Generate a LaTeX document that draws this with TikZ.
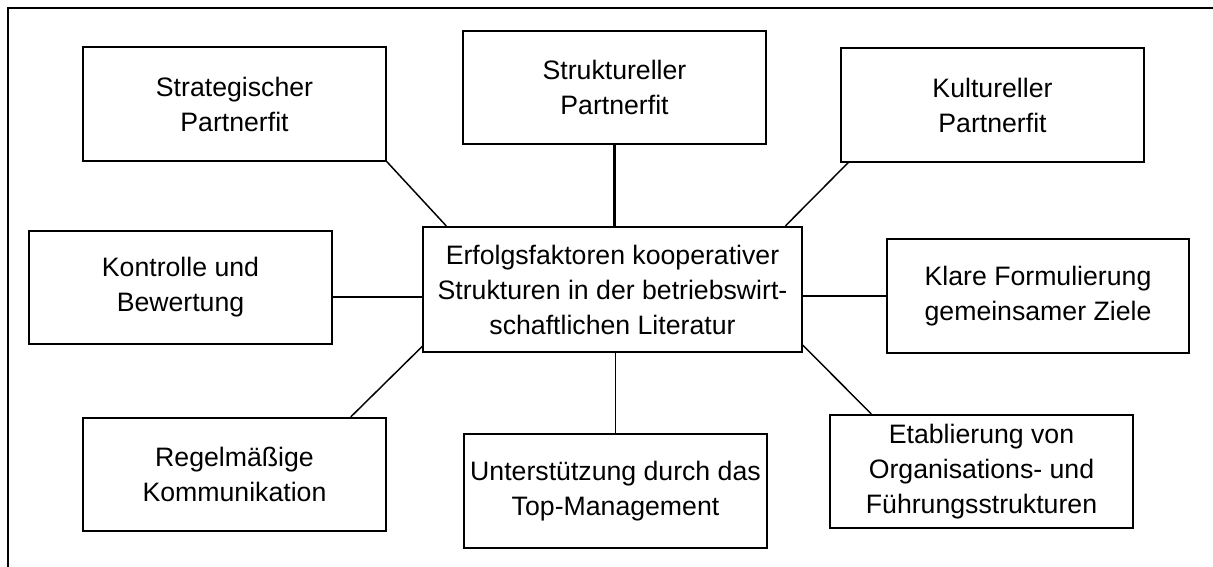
\documentclass[tikz,border=0pt]{standalone}
\usepackage{fontspec}
\setmainfont{Liberation Sans}
\usepackage{tikz}
\usetikzlibrary{calc}
\definecolor{inkBlack}{RGB}{0,0,0}
\tikzset{
  factor/.style={draw=inkBlack, line width=1.4pt, fill=white, align=center,
                 minimum width=227pt, minimum height=85pt, inner sep=2pt,
                 font=\fontsize{20}{26.25}\selectfont},
  corebox/.style={factor, minimum width=284pt, minimum height=94pt}
}

\begin{document}
\begin{tikzpicture}[
  x=0.75pt, y=-0.75pt,
  link/.style={draw=inkBlack, line width=1.1pt},
  heavylink/.style={draw=inkBlack, line width=1.8pt}
]
\useasboundingbox (0,0) rectangle (1213,567);
\draw[inkBlack, line width=2pt] (8,567) -- (8,8) -- (1213,8);

% centre
\node[corebox] (centre) at (612.5,289.5) {Erfolgsfaktoren kooperativer\\Strukturen in der betriebswirt-\\schaftlichen Literatur};

% factors
\node[factor] (strat) at (234.5,104) {Strategischer\\Partnerfit};
\node[factor] (struk) at (614.5,87.5) {Struktureller\\Partnerfit};
\node[factor] (kult) at (992.5,105) {Kultureller\\Partnerfit};
\node[factor] (kontr) at (180.5,287.5) {Kontrolle und\\Bewertung};
\node[factor] (klare) at (1038,296) {Klare Formulierung\\gemeinsamer Ziele};
\node[factor] (regel) at (234.5,474.5) {Regelmäßige\\Kommunikation};
\node[factor] (unter) at (615.5,491) {Unterstützung durch das\\Top-Management};
\node[factor] (etab) at (981.5,471.5) {Etablierung von\\Organisations- und\\Führungsstrukturen};

\draw[link] (strat.south east) -- ([xshift=18pt]centre.north west);
\draw[heavylink] (struk.south) -- (struk.south |- centre.north);
\draw[link] ([xshift=6pt]kult.south west) -- ([xshift=-13pt]centre.north east);
\draw[heavylink] ([yshift=-7pt]kontr.east) -- ([yshift=-7pt]kontr.east -| centre.west);
\draw[link] (klare.west) -- (klare.west -| centre.east);
\draw[link] ([xshift=-27pt]regel.north east) -- ([yshift=5pt]centre.south west);
\draw[link, line width=1.4pt] (unter.north) -- (unter.north |- centre.south);
\draw[link] ([yshift=6pt]centre.south east) -- ([xshift=31.5pt]etab.north west);
\end{tikzpicture}
\end{document}
